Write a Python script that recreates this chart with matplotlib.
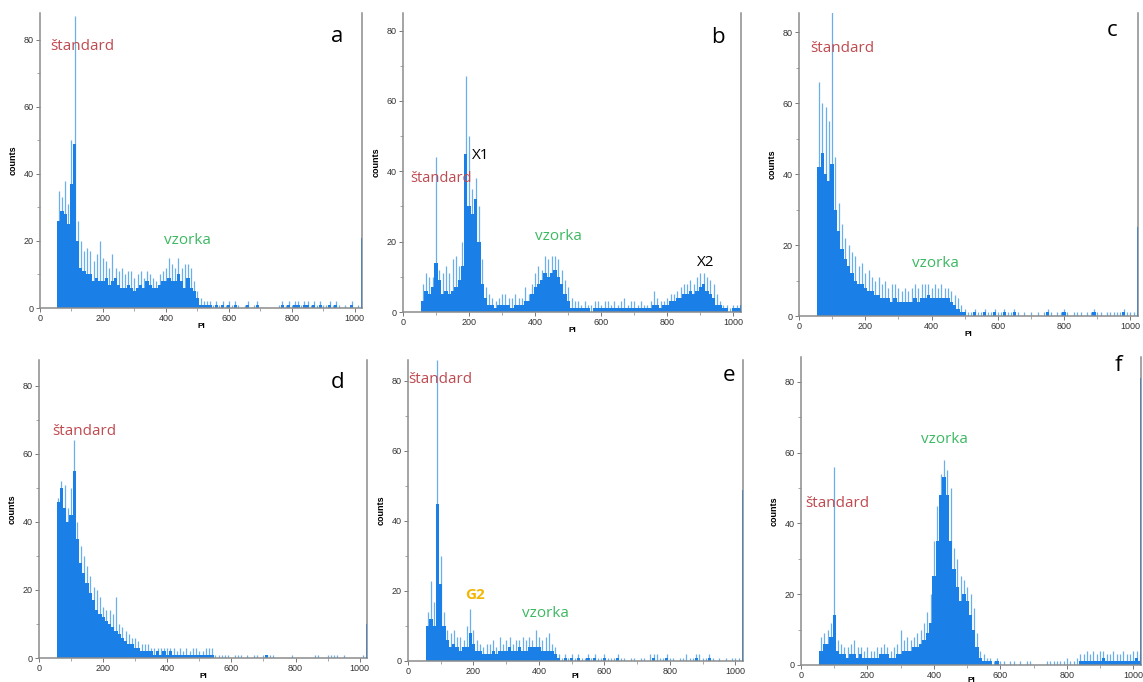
import matplotlib
matplotlib.use("Agg")
from matplotlib import pyplot as plt
from matplotlib.ticker import MultipleLocator
import numpy as np

# channel centres of the 10-channel bins (PI axis)
channels = np.arange(60, 1021, 10)
edges = np.arange(55, 1026, 10)

# ---- panel a ----
a_body = [26, 29, 28, 25, 37, 49, 20, 12, 11, 10,
          10, 8, 9, 8, 8, 9, 7, 8, 9, 7,
          6, 6, 7, 6, 5, 6, 7, 6, 8, 7,
          6, 6, 7, 8, 8, 9, 8, 8, 10, 8,
          6, 9, 6, 5, 3, 1, 1, 1, 1, 0,
          1, 0, 1, 0, 1, 0, 1, 0, 0, 0,
          1, 0, 0, 1, 0, 0, 0, 0, 0, 0,
          0, 1, 0, 1, 0, 1, 1, 0, 1, 1,
          0, 1, 0, 1, 0, 0, 1, 0, 1, 0,
          0, 0, 0, 1, 0, 0, 0]
a_spike = [35, 33, 38, 31, 50, 87, 26, 20, 17, 18,
           17, 14, 16, 20, 15, 14, 12, 16, 12, 11,
           12, 10, 11, 11, 9, 10, 11, 9, 11, 10,
           9, 8, 10, 11, 12, 15, 13, 12, 15, 12,
           13, 13, 12, 8, 5, 3, 2, 2, 2, 1,
           2, 1, 2, 1, 2, 1, 2, 1, 0, 1,
           2, 0, 1, 2, 0, 0, 0, 0, 0, 0,
           1, 2, 1, 2, 1, 2, 2, 1, 2, 2,
           1, 2, 1, 2, 1, 1, 2, 1, 2, 1,
           0, 1, 0, 2, 0, 1, 0]

# ---- panel b ----
b_body = [3, 6, 5, 7, 14, 9, 5, 6, 5, 6,
          7, 9, 13, 45, 30, 28, 32, 20, 8, 4,
          2, 2, 1, 2, 2, 2, 2, 1, 2, 2,
          2, 3, 3, 5, 7, 8, 9, 11, 10, 11,
          12, 10, 8, 5, 3, 1, 1, 1, 1, 1,
          1, 0, 1, 1, 1, 1, 1, 1, 1, 1,
          1, 1, 1, 1, 1, 1, 1, 1, 1, 1,
          2, 2, 1, 2, 2, 3, 3, 4, 4, 5,
          5, 6, 5, 6, 7, 8, 6, 5, 4, 2,
          2, 1, 1, 0, 1, 1, 1]
b_spike = [8, 11, 10, 10, 44, 12, 11, 13, 11, 15,
           16, 13, 20, 67, 50, 35, 38, 30, 15, 7,
           5, 4, 3, 4, 5, 5, 4, 4, 5, 4,
           4, 7, 5, 8, 11, 13, 12, 16, 15, 16,
           16, 15, 12, 9, 7, 4, 3, 3, 2, 3,
           2, 2, 3, 3, 2, 3, 3, 2, 3, 2,
           3, 4, 2, 3, 3, 2, 3, 2, 2, 3,
           6, 4, 3, 3, 4, 5, 5, 6, 7, 8,
           8, 9, 8, 10, 11, 11, 10, 9, 8, 5,
           3, 2, 2, 1, 2, 2, 2]

# ---- panel c ----
c_body = [42, 46, 40, 38, 43, 30, 24, 19, 16, 14,
          12, 10, 9, 9, 8, 7, 7, 6, 6, 5,
          5, 5, 4, 5, 4, 4, 4, 4, 4, 5,
          4, 5, 5, 6, 5, 5, 5, 5, 5, 5,
          4, 3, 2, 1, 1, 0, 0, 1, 0, 0,
          1, 0, 0, 1, 0, 0, 1, 0, 0, 1,
          0, 0, 0, 0, 0, 0, 0, 0, 0, 1,
          0, 0, 0, 0, 1, 0, 0, 0, 0, 0,
          0, 0, 0, 1, 0, 0, 0, 0, 0, 0,
          0, 0, 1, 0, 0, 0, 0]
c_spike = [66, 60, 59, 55, 88, 45, 32, 26, 22, 20,
           18, 17, 14, 15, 12, 13, 11, 10, 11, 9,
           10, 8, 9, 9, 8, 7, 8, 7, 8, 9,
           8, 9, 9, 9, 8, 9, 8, 9, 8, 8,
           7, 6, 5, 3, 2, 1, 1, 2, 1, 1,
           2, 1, 1, 2, 1, 1, 2, 1, 1, 2,
           1, 0, 1, 0, 1, 0, 1, 0, 1, 2,
           1, 0, 1, 1, 2, 1, 0, 1, 1, 1,
           0, 1, 1, 2, 1, 1, 0, 1, 1, 1,
           1, 1, 2, 1, 1, 1, 0]

# ---- panel d ----
d_body = [46, 50, 44, 40, 42, 55, 35, 28, 25, 22,
          19, 17, 14, 13, 12, 11, 10, 9, 8, 7,
          6, 5, 4, 4, 3, 3, 2, 2, 2, 2,
          1, 2, 1, 2, 1, 2, 1, 1, 1, 1,
          1, 1, 1, 1, 1, 1, 1, 1, 1, 0,
          0, 0, 0, 0, 0, 0, 0, 0, 0, 0,
          0, 0, 0, 0, 0, 1, 0, 0, 0, 0,
          0, 0, 0, 0, 0, 0, 0, 0, 0, 0,
          0, 0, 0, 0, 0, 0, 0, 0, 0, 0,
          0, 0, 0, 0, 0, 0, 0]
d_spike = [47, 52, 51, 44, 50, 64, 40, 33, 30, 27,
           24, 21, 20, 18, 15, 14, 14, 13, 18, 10,
           9, 8, 7, 6, 6, 5, 4, 4, 4, 3,
           3, 3, 3, 3, 3, 3, 3, 2, 3, 2,
           3, 2, 3, 3, 2, 2, 3, 3, 3, 1,
           1, 1, 1, 1, 0, 1, 1, 1, 0, 1,
           0, 1, 1, 0, 1, 1, 1, 1, 0, 0,
           0, 0, 0, 1, 0, 0, 0, 0, 0, 0,
           1, 1, 0, 0, 1, 1, 1, 1, 0, 1,
           0, 0, 0, 0, 0, 1, 0]

# ---- panel e ----
e_body = [10, 12, 10, 45, 22, 10, 6, 4, 5, 4,
          3, 4, 4, 8, 5, 3, 3, 2, 2, 2,
          3, 2, 3, 3, 3, 4, 3, 3, 4, 3,
          3, 4, 4, 4, 4, 3, 3, 3, 3, 2,
          1, 0, 1, 0, 1, 0, 1, 0, 0, 1,
          0, 1, 0, 0, 1, 0, 0, 0, 1, 0,
          0, 0, 0, 0, 0, 0, 0, 0, 0, 1,
          0, 0, 0, 1, 0, 0, 0, 0, 0, 0,
          0, 0, 1, 0, 0, 0, 1, 0, 0, 0,
          0, 0, 0, 0, 0, 0, 0]
e_spike = [14, 23, 17, 86, 30, 14, 9, 8, 9, 7,
           7, 6, 10, 15, 9, 6, 5, 4, 5, 5,
           6, 4, 7, 5, 6, 7, 5, 6, 6, 7,
           6, 7, 6, 9, 7, 6, 7, 8, 5, 4,
           2, 1, 2, 1, 2, 1, 2, 1, 1, 2,
           1, 2, 1, 1, 2, 1, 1, 1, 2, 1,
           1, 0, 1, 1, 0, 1, 1, 0, 2, 2,
           2, 1, 1, 2, 1, 1, 0, 1, 1, 2,
           1, 1, 2, 2, 1, 1, 2, 1, 0, 1,
           0, 1, 0, 1, 1, 1, 0]

# ---- panel f ----
f_body = [4, 6, 6, 8, 14, 4, 3, 3, 2, 3,
          3, 2, 3, 2, 2, 2, 2, 2, 3, 3,
          3, 2, 2, 3, 3, 4, 4, 4, 5, 5,
          6, 7, 9, 12, 25, 35, 48, 53, 48, 35,
          27, 22, 18, 20, 18, 14, 10, 5, 2, 1,
          1, 1, 0, 1, 0, 0, 0, 0, 0, 0,
          0, 0, 0, 0, 0, 0, 0, 0, 0, 0,
          0, 0, 0, 0, 0, 0, 0, 0, 1, 1,
          1, 1, 1, 1, 1, 2, 1, 1, 1, 1,
          1, 1, 1, 1, 1, 2, 1]
f_spike = [8, 9, 10, 12, 56, 7, 6, 5, 5, 6,
           7, 5, 5, 4, 5, 4, 4, 5, 5, 6,
           5, 4, 5, 6, 10, 7, 8, 7, 8, 9,
           10, 12, 15, 20, 35, 45, 54, 58, 55, 50,
           33, 30, 25, 24, 22, 20, 16, 9, 4, 3,
           2, 2, 1, 2, 1, 1, 0, 1, 1, 0,
           1, 0, 1, 1, 0, 0, 0, 0, 1, 1,
           1, 1, 1, 1, 2, 1, 1, 2, 3, 3,
           4, 3, 4, 3, 4, 4, 3, 3, 4, 3,
           3, 4, 3, 3, 4, 4, 3]

# counts piled up in the last channel
last_channel = {"a": 21, "b": 2, "c": 25, "d": 10, "e": 49, "f": 81}

# axes boxes in pixels: left, right, top, bottom, y top limit, x-label pad
boxes = {
    "a": (40, 362, 13, 308, 88, 0),
    "b": (403, 741, 13, 312, 85, 0),
    "c": (799, 1138, 13, 316, 85.5, 0),
    "d": (39, 367, 360, 658, 87.6, 0),
    "e": (408, 743, 360, 661, 86, -2),
    "f": (801, 1141, 357, 665, 87, -2.5),
}

data = {
    "a": (a_body, a_spike), "b": (b_body, b_spike), "c": (c_body, c_spike),
    "d": (d_body, d_spike), "e": (e_body, e_spike), "f": (f_body, f_spike),
}

RED = "#bf4a50"
GREEN = "#3cb862"
GOLD = "#f2b705"
ann_font = "Open Sans"

# (text, x, y, colour, ha, size, weight)
labels = {
    "a": [("štandard", 32, 78, RED, "left", 11, "normal"),
          ("vzorka", 470, 20, GREEN, "center", 11, "normal"),
          ("a", 944, 81, "black", "center", 16, "normal")],
    "b": [("štandard", 21, 38, RED, "left", 10.5, "normal"),
          ("X1", 209, 44.5, "black", "left", 11, "normal"),
          ("vzorka", 469, 21.5, GREEN, "center", 11, "normal"),
          ("X2", 890, 14.2, "black", "left", 11, "normal"),
          ("b", 953, 78, "black", "center", 16, "normal")],
    "c": [("štandard", 33, 75.6, RED, "left", 11, "normal"),
          ("vzorka", 413, 14.7, GREEN, "center", 11, "normal"),
          ("c", 945, 80.6, "black", "center", 16, "normal")],
    "d": [("štandard", 40, 66.5, RED, "left", 11, "normal"),
          ("d", 932, 80.9, "black", "center", 16, "normal")],
    "e": [("štandard", 1, 80.3, RED, "left", 11, "normal"),
          ("G2", 206, 18.9, GOLD, "center", 11, "bold"),
          ("vzorka", 419, 13.7, GREEN, "center", 11, "normal"),
          ("e", 979, 81.7, "black", "center", 16, "normal")],
    "f": [("štandard", 12, 45.5, RED, "left", 11, "normal"),
          ("vzorka", 433, 63.6, GREEN, "center", 11, "normal"),
          ("f", 954, 84.7, "black", "center", 16, "normal")],
}

W, H = 1143, 682
fig = plt.figure(figsize=(W / 100, H / 100), dpi=100)

for key, (l, r, t, b, ytop, xpad) in boxes.items():
    ax = fig.add_axes([l / W, 1 - b / H, (r - l) / W, (b - t) / H])
    body, spike = data[key]
    ax.vlines(channels, 0, spike, color="#6aaeea", lw=0.9, zorder=1)
    ax.stairs(body, edges, fill=True, color="#1a7fe6", lw=0, zorder=2)
    ax.vlines(1022, 0, last_channel[key], color="#3d7fc4", lw=1.2, zorder=3)
    ax.set_xlim(0, 1023)
    ax.set_ylim(0, ytop)

    for s in ["left", "bottom", "right"]:
        ax.spines[s].set_color("#8c8c8c")
        ax.spines[s].set_linewidth(1.1)
    ax.spines["top"].set_visible(False)

    ax.xaxis.set_major_locator(MultipleLocator(200))
    ax.xaxis.set_minor_locator(MultipleLocator(100))
    ax.yaxis.set_major_locator(MultipleLocator(20))
    ax.yaxis.set_minor_locator(MultipleLocator(10))
    ax.tick_params(which="major", length=3, width=0.7, color="#777777",
                   labelsize=6.5, labelcolor="#333333", pad=1.5)
    ax.tick_params(which="minor", length=2, width=0.6, color="#999999")
    for lab in ax.get_xticklabels() + ax.get_yticklabels():
        lab.set_family("Liberation Sans")

    ax.set_ylabel("counts", fontsize=6.5, fontweight="bold",
                  family="Liberation Sans", labelpad=4)
    ax.set_xlabel("PI", fontsize=6, fontweight="bold",
                  family="Liberation Sans", labelpad=xpad)

    for txt, x, y, col, ha, size, weight in labels[key]:
        ax.text(x, y, txt, color=col, ha=ha, va="center", fontsize=size,
                fontweight=weight, family=ann_font)

fig.savefig("out.png", dpi=100)
